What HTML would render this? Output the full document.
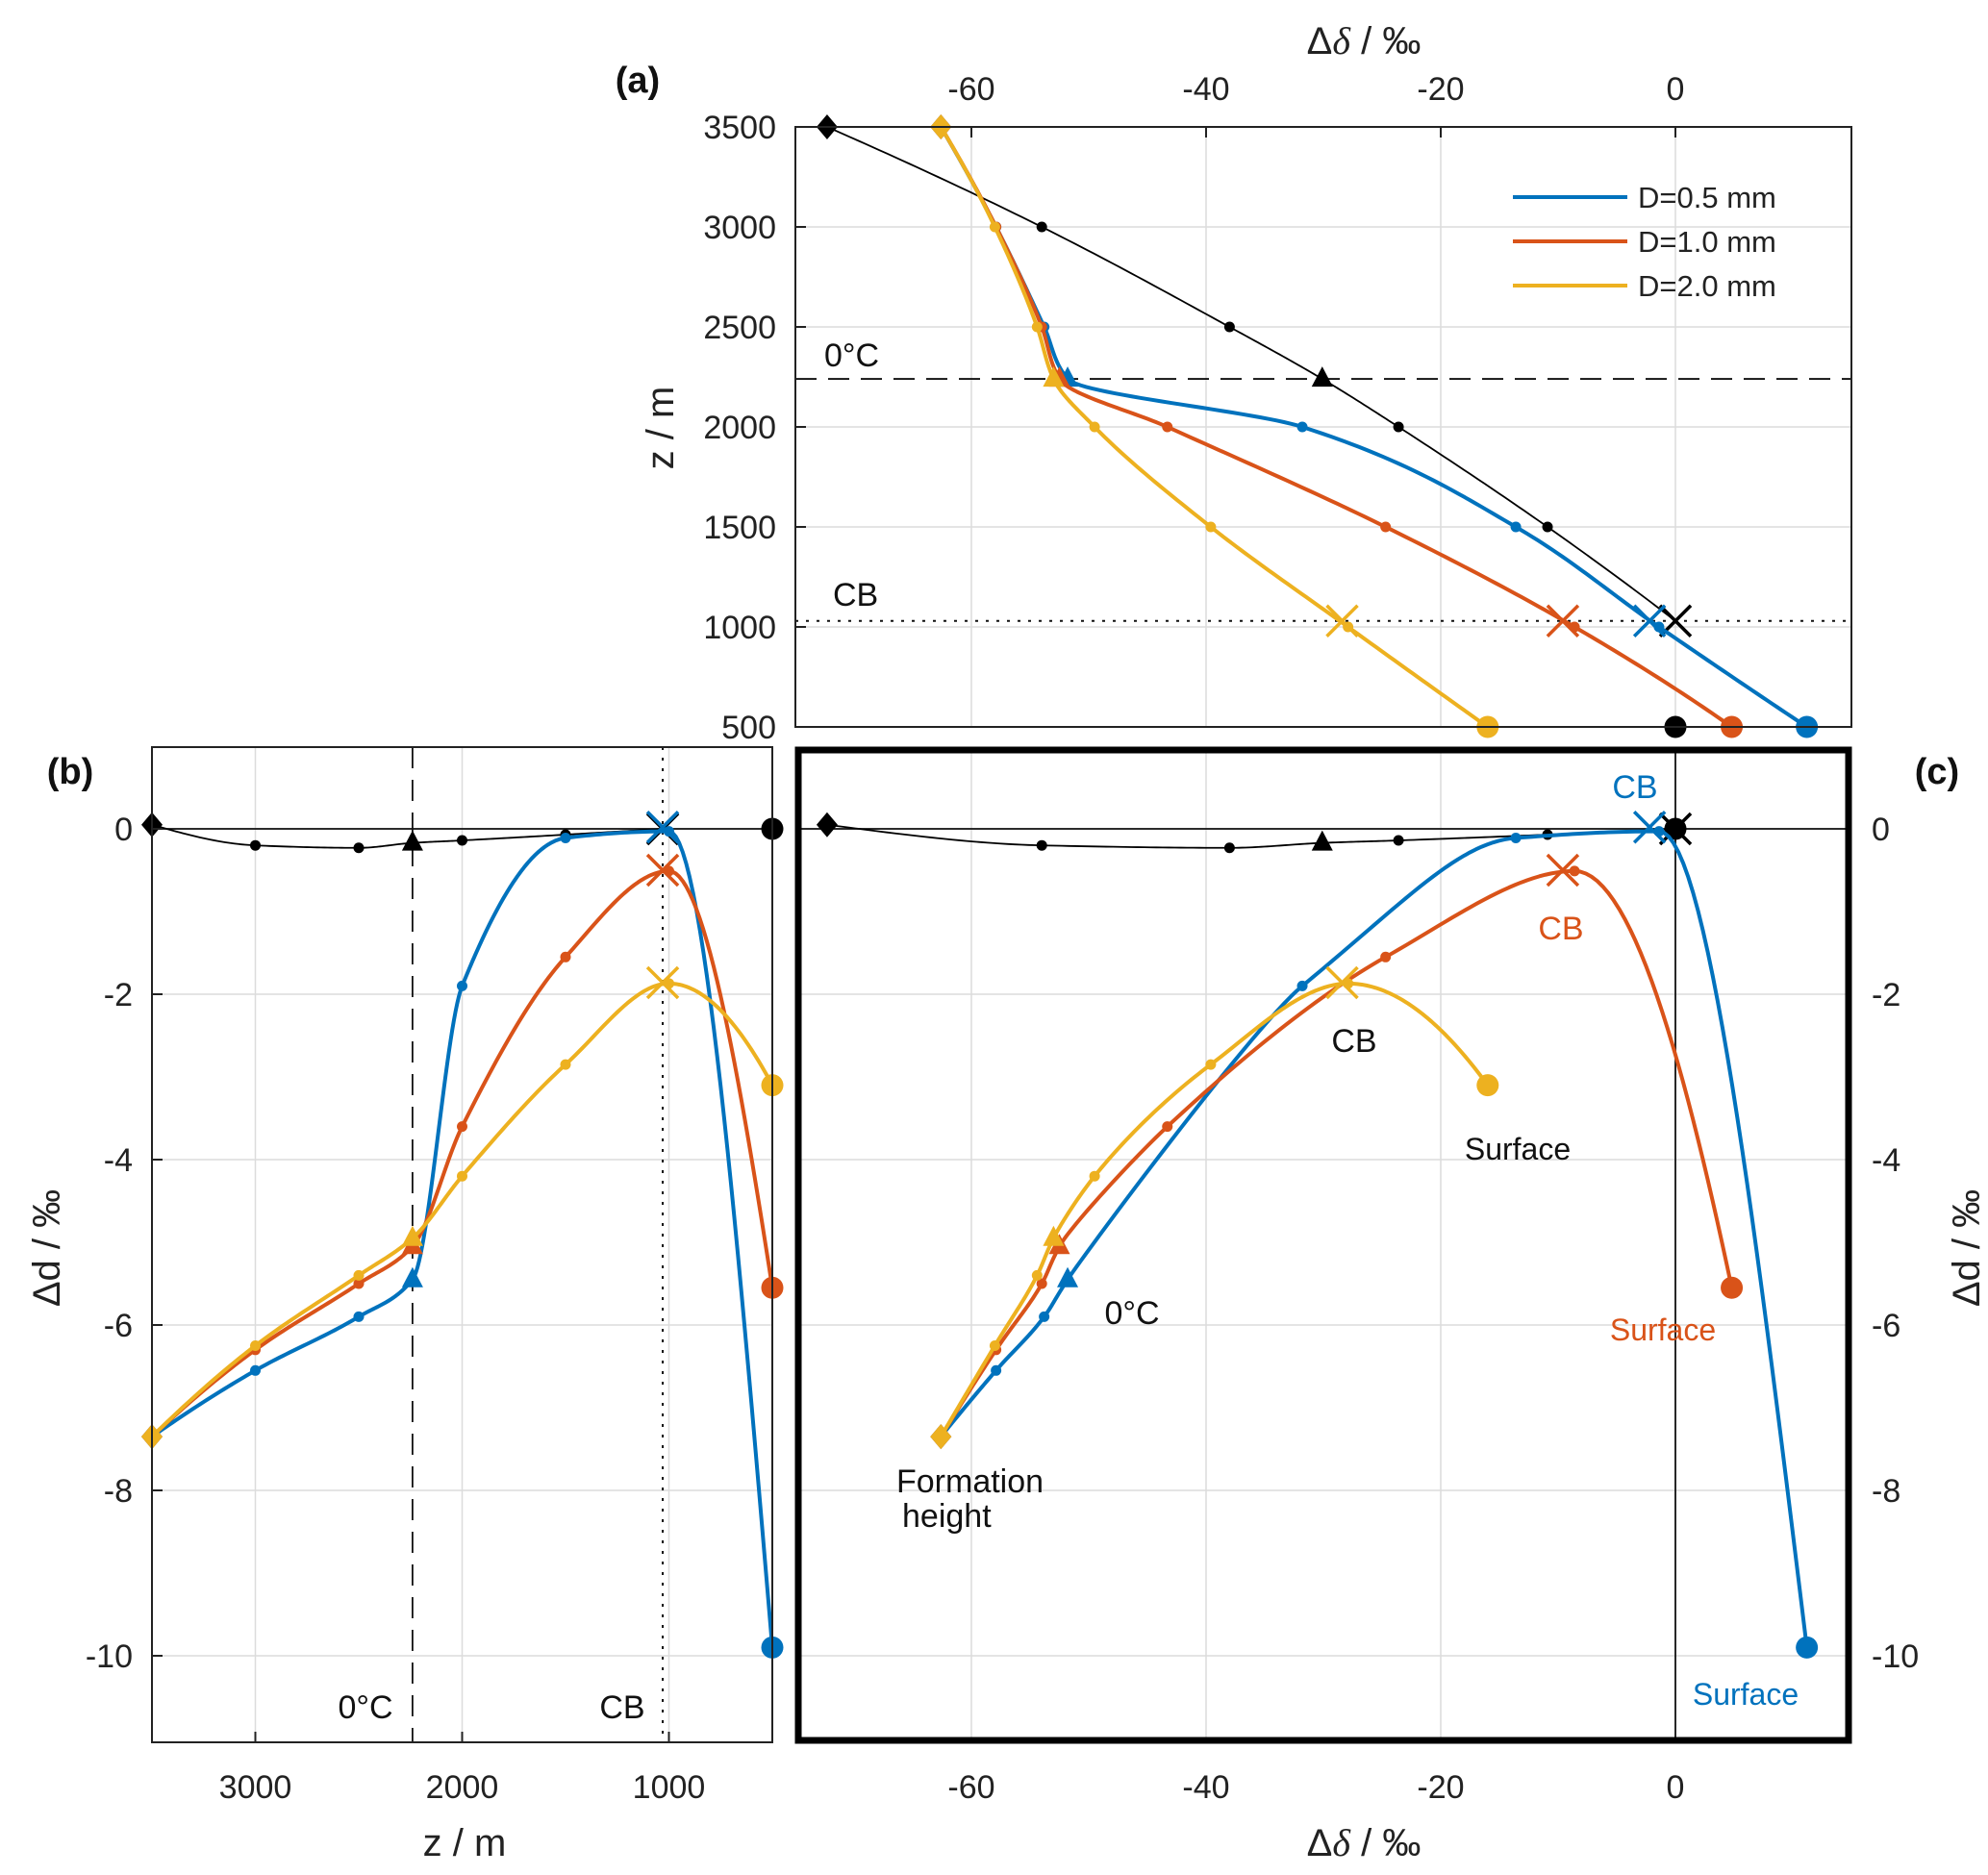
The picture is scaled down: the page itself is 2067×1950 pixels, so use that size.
<!DOCTYPE html>
<html><head><meta charset="utf-8"><style>
html,body{margin:0;padding:0;background:#fff}
svg text{font-family:"Liberation Sans",sans-serif;fill:#222}
</style></head><body>
<svg id="fig" xmlns="http://www.w3.org/2000/svg" width="2067" height="1945" viewBox="0 0 2067 1945">
<g id="layer"></g>
</svg>
<script>
// ---- data ----
const zLevels = [3500, 3000, 2500, 2240, 2000, 1500, 1030, 1000, 500];
const markerTypes = ['diamond','dot','dot','triangle','dot','dot','x','dot','circle'];
const blackDdelta = [-72.3, -54.0, -38.0, -30.1, -23.6, -10.9, 0.0];
const blackDd = [0.05, -0.2, -0.23, -0.17, -0.14, -0.07, 0.0];
const blackSurfaceDdelta = 0.0;
const blackSurfaceDd = 0.0;
const blueDdelta = [-62.6, -57.9, -53.8, -51.8, -31.8, -13.6, -2.2, -1.4, 11.2];
const blueDd = [-7.35, -6.55, -5.9, -5.45, -1.9, -0.11, 0.02, -0.03, -9.9];
const orangeDdelta = [-62.6, -57.9, -54.0, -52.5, -43.3, -24.7, -9.6, -8.6, 4.8];
const orangeDd = [-7.35, -6.3, -5.5, -5.05, -3.6, -1.55, -0.5, -0.51, -5.55];
const yellowDdelta = [-62.6, -58.0, -54.4, -53.0, -49.5, -39.6, -28.4, -27.9, -16.0];
const yellowDd = [-7.35, -6.25, -5.4, -4.95, -4.2, -2.85, -1.86, -1.87, -3.1];
const seriesNames = ['D=0.5 mm', 'D=1.0 mm', 'D=2.0 mm'];
const ddeltaTicks = [-60, -40, -20, 0];
const zTicksA = [500, 1000, 1500, 2000, 2500, 3000, 3500];
const zTicksB = [3000, 2000, 1000];
const ddTicks = [0, -2, -4, -6, -8, -10];
const freezeZ = 2240;
const cbZ = 1030;

// ---- axes ----
const xD = v => 827 + (v + 75) / 90 * 1098;          // Δδ -> px (panels a, c)
const yZa = z => 756 - (z - 500) / 3000 * 624;         // z -> px (panel a)
const xZb = z => 158 + (3500 - z) / 3000 * 645;        // z -> px (panel b)
const yDd = v => 862 - v * 86;                          // Δd -> px (panels b, c)

const NS = 'http://www.w3.org/2000/svg';
const layer = document.getElementById('layer');
function mk(tag, attrs, parent) {
  const e = document.createElementNS(NS, tag);
  for (const k in attrs) e.setAttribute(k, attrs[k]);
  (parent || layer).appendChild(e);
  return e;
}
function txt(s, x, y, size, anchor, fill, parent, extra) {
  const t = mk('text', Object.assign({x: x, y: y, 'font-size': size, 'text-anchor': anchor || 'middle', style: 'fill:' + (fill || '#222')}, extra || {}), parent);
  t.textContent = s;
  return t;
}
// PCHIP interpolation parametrised by t (= -z)
function pchip(ts, vals, N) {
  const n = ts.length, h = [], del = [], d = [];
  for (let i = 0; i < n - 1; i++) { h[i] = ts[i + 1] - ts[i]; del[i] = (vals[i + 1] - vals[i]) / h[i]; }
  for (let i = 1; i < n - 1; i++) {
    if (del[i - 1] * del[i] <= 0) d[i] = 0;
    else {
      const w1 = 2 * h[i] + h[i - 1], w2 = h[i] + 2 * h[i - 1];
      d[i] = (w1 + w2) / (w1 / del[i - 1] + w2 / del[i]);
    }
  }
  function endD(h0, h1, d0, d1) {
    let dd = ((2 * h0 + h1) * d0 - h0 * d1) / (h0 + h1);
    if (dd * d0 <= 0) dd = 0;
    else if (d0 * d1 < 0 && Math.abs(dd) > Math.abs(3 * d0)) dd = 3 * d0;
    return dd;
  }
  d[0] = n > 2 ? endD(h[0], h[1], del[0], del[1]) : del[0];
  d[n - 1] = n > 2 ? endD(h[n - 2], h[n - 3], del[n - 2], del[n - 3]) : del[n - 2];
  const out = [];
  for (let i = 0; i < n - 1; i++) {
    for (let k = 0; k < N; k++) {
      const s = k / N, s2 = s * s, s3 = s2 * s;
      out.push({t: ts[i] + s * h[i], v: (2*s3 - 3*s2 + 1) * vals[i] + (s3 - 2*s2 + s) * h[i] * d[i] + (-2*s3 + 3*s2) * vals[i + 1] + (s3 - s2) * h[i] * d[i + 1]});
    }
  }
  out.push({t: ts[n - 1], v: vals[n - 1]});
  return out;
}
// curve nodes: skip the cloud-base (CB) point, it is only a marker
function curvePath(p, dd, d) {
  const idx = dd.map((_, i) => i).filter(i => zLevels[i] !== cbZ || i === dd.length - 1);
  const ts = idx.map(i => -zLevels[i]);
  const A = pchip(ts, idx.map(i => dd[i]), 30), B = pchip(ts, idx.map(i => d[i]), 30);
  return 'M' + A.map((a, i) => p.px(a.v, B[i].v, -a.t).toFixed(2) + ',' + p.py(a.v, B[i].v, -a.t).toFixed(2)).join(' L');
}
function marker(type, x, y, color, g) {
  let e;
  if (type === 'dot') e = mk('circle', {cx: x, cy: y, r: 5.5, fill: color}, g);
  else if (type === 'circle') e = mk('circle', {cx: x, cy: y, r: 11.5, fill: color}, g);
  else if (type === 'diamond') e = mk('path', {d: `M${x},${y-13} L${x+11},${y} L${x},${y+13} L${x-11},${y} Z`, fill: color}, g);
  else if (type === 'triangle') e = mk('path', {d: `M${x},${y-13} L${x+11},${y+8} L${x-11},${y+8} Z`, fill: color}, g);
  else if (type === 'x') e = mk('path', {d: `M${x-16},${y-16} L${x+16},${y+16} M${x-16},${y+16} L${x+16},${y-16}`, stroke: color, 'stroke-width': 3.5, fill: 'none'}, g);
  
  
  return e;
}

const colors = ['#0072BD', '#D95319', '#EDB120'];
const series = [[blueDdelta, blueDd], [orangeDdelta, orangeDd], [yellowDdelta, yellowDd]];

// ---- grids ----
const grid = mk('g', {stroke: '#dcdcdc', 'stroke-width': 1.5});


ddeltaTicks.forEach(v => { mk('line', {x1: xD(v), x2: xD(v), y1: 132, y2: 756}, grid); mk('line', {x1: xD(v), x2: xD(v), y1: 777, y2: 1812}, grid); });
zTicksA.forEach(z => mk('line', {x1: 827, x2: 1925, y1: yZa(z), y2: yZa(z)}, grid));
zTicksB.forEach(z => mk('line', {x1: xZb(z), x2: xZb(z), y1: 777, y2: 1812}, grid));
ddTicks.forEach(v => { mk('line', {x1: 158, x2: 803, y1: yDd(v), y2: yDd(v)}, grid); mk('line', {x1: 827, x2: 1925, y1: yDd(v), y2: yDd(v)}, grid); });

// zero lines
mk('line', {x1: 158, x2: 803, y1: yDd(0), y2: yDd(0), stroke: '#111', 'stroke-width': 1.8});
mk('line', {x1: 827, x2: 1925, y1: yDd(0), y2: yDd(0), stroke: '#111', 'stroke-width': 1.8});
mk('line', {x1: xD(0), x2: xD(0), y1: 777, y2: 1812, stroke: '#111', 'stroke-width': 1.8});

// reference lines
mk('line', {x1: 827, x2: 1925, y1: yZa(freezeZ), y2: yZa(freezeZ), stroke: '#111', 'stroke-width': 1.8, 'stroke-dasharray': '22,12'});
mk('line', {x1: 827, x2: 1925, y1: yZa(cbZ), y2: yZa(cbZ), stroke: '#111', 'stroke-width': 2, 'stroke-dasharray': '3,8'});
mk('line', {x1: xZb(freezeZ), x2: xZb(freezeZ), y1: 777, y2: 1812, stroke: '#111', 'stroke-width': 1.8, 'stroke-dasharray': '22,12'});
mk('line', {x1: xZb(cbZ), x2: xZb(cbZ), y1: 777, y2: 1812, stroke: '#111', 'stroke-width': 2, 'stroke-dasharray': '3,8'});

// ---- panel series ----
const panels = [
  {name: 'a', px: (dd, d, z) => xD(dd), py: (dd, d, z) => yZa(z)},
  {name: 'b', px: (dd, d, z) => xZb(z), py: (dd, d, z) => yDd(d)},
  {name: 'c', px: (dd, d, z) => xD(dd), py: (dd, d, z) => yDd(d)}
];
panels.forEach(p => {
  const g = mk('g', {});
  
  
  const bl = mk('path', {d: curvePath(p, blackDdelta, blackDd), stroke: '#000', 'stroke-width': 1.8, fill: 'none'}, g);
  
  
  blackDdelta.forEach((v, i) => marker(markerTypes[i], p.px(v, blackDd[i], zLevels[i]), p.py(v, blackDd[i], zLevels[i]), '#000', g));
  marker('circle', p.px(blackSurfaceDdelta, blackSurfaceDd, 500), p.py(blackSurfaceDdelta, blackSurfaceDd, 500), '#000', g);
  series.forEach((s, si) => {
    const ln = mk('path', {d: curvePath(p, s[0], s[1]), stroke: colors[si], 'stroke-width': 4, fill: 'none', 'stroke-linejoin': 'round'}, g);
    
    
    s[0].forEach((v, i) => marker(markerTypes[i], p.px(v, s[1][i], zLevels[i]), p.py(v, s[1][i], zLevels[i]), colors[si], g));
  });
});

// ---- frames ----
mk('rect', {x: 827, y: 132, width: 1098, height: 624, fill: 'none', stroke: '#222', 'stroke-width': 2});
mk('rect', {x: 158, y: 777, width: 645, height: 1035, fill: 'none', stroke: '#222', 'stroke-width': 2});
mk('rect', {x: 830, y: 780, width: 1092, height: 1030, fill: 'none', stroke: '#000', 'stroke-width': 7});

// ---- ticks & tick labels ----
const FS = 34;
ddeltaTicks.forEach(v => {
  mk('line', {x1: xD(v), x2: xD(v), y1: 132, y2: 143, stroke: '#222', 'stroke-width': 2});
  txt(String(v), xD(v), 104, FS);
  txt(String(v), xD(v), 1870, FS);
});
zTicksA.forEach(z => {
  mk('line', {x1: 827, x2: 838, y1: yZa(z), y2: yZa(z), stroke: '#222', 'stroke-width': 2});
  txt(String(z), 807, yZa(z) + 12, FS, 'end');
});
zTicksB.forEach(z => {
  mk('line', {x1: xZb(z), x2: xZb(z), y1: 1812, y2: 1801, stroke: '#222', 'stroke-width': 2});
  txt(String(z), xZb(z), 1870, FS);
});
ddTicks.forEach(v => {
  mk('line', {x1: 158, x2: 169, y1: yDd(v), y2: yDd(v), stroke: '#222', 'stroke-width': 2});
  txt(String(v), 138, yDd(v) + 12, FS, 'end');
  txt(String(v), 1946, yDd(v) + 12, FS, 'start');
});

// ---- titles ----
function deltaTitle(x, y, name) {
  const t = mk('text', {x: x, y: y, 'font-size': 40, 'text-anchor': 'middle', style: 'fill:#222'});
  
  
  const a = mk('tspan', {}, t); a.textContent = 'Δ';
  const b = mk('tspan', {style: 'font-family:"Liberation Serif",serif;font-style:italic'}, t); b.textContent = 'δ';
  const c = mk('tspan', {}, t); c.textContent = ' / ‰';
  return t;
}
deltaTitle(1418, 56, 'top-x-axis-title');
deltaTitle(1418, 1930, 'bottom-x-axis-title');
txt('z / m', 483, 1930, 40);
txt('z / m', 0, 0, 40, 'middle', '#222', null, {transform: 'translate(700,445) rotate(-90)'});
txt('Δd / ‰', 0, 0, 40, 'middle', '#222', null, {transform: 'translate(62,1298) rotate(-90)'});
txt('Δd / ‰', 0, 0, 40, 'middle', '#222', null, {transform: 'translate(2058,1298) rotate(-90)'});
txt('(a)', 663, 96, 38, 'middle', '#111', null, {'font-weight': 'bold'});
txt('(b)', 73, 815, 38, 'middle', '#111', null, {'font-weight': 'bold'});
txt('(c)', 2014, 815, 38, 'middle', '#111', null, {'font-weight': 'bold'});

// ---- legend ----
const lg = mk('g', {});


seriesNames.forEach((n, i) => {
  const y = 205 + i * 46;
  mk('line', {x1: 1573, x2: 1692, y1: y, y2: y, stroke: colors[i], 'stroke-width': 4}, lg);
  txt(n, 1703, y + 11, 31, 'start', '#222', lg);
});

// ---- annotations ----
const AF = 34;
txt('0°C', 857, 381, AF, 'start', '#111');
txt('CB', 866, 630, AF, 'start', '#111');
txt('0°C', 380, 1787, AF, 'middle', '#111');
txt('CB', 647, 1787, AF, 'middle', '#111');
txt('CB', 1700, 830, AF, 'middle', '#0072BD');
txt('CB', 1623, 977, AF, 'middle', '#D95319');
txt('CB', 1408, 1094, AF, 'middle', '#111');
txt('Surface', 1578, 1206, 32, 'middle', '#111');
txt('0°C', 1177, 1377, AF, 'middle', '#111');
txt('Surface', 1729, 1394, 32, 'middle', '#D95319');
txt('Formation', 932, 1552, 34, 'start', '#111');
txt('height', 938, 1588, 34, 'start', '#111');
txt('Surface', 1815, 1773, 32, 'middle', '#0072BD');
</script>
</body></html>
